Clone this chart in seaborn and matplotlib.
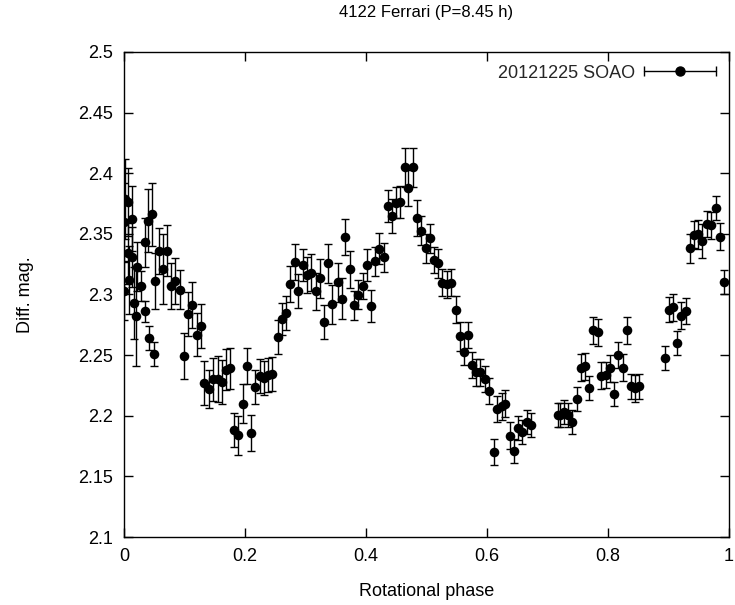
import matplotlib
matplotlib.use("Agg")
import matplotlib.pyplot as plt
import seaborn as sns
import pandas as pd
from matplotlib.lines import Line2D
from matplotlib.legend_handler import HandlerBase
from matplotlib.ticker import FuncFormatter, MultipleLocator

phase = [0.000, 0.0005, 0.0016, 0.006, 0.006, 0.009, 0.014, 0.014, 0.017, 0.020,
         0.021, 0.028, 0.0345, 0.0345, 0.040, 0.041, 0.0455, 0.049, 0.051, 0.0576,
         0.064, 0.0707, 0.078, 0.085, 0.093, 0.099, 0.106, 0.112, 0.120, 0.127,
         0.133, 0.141, 0.1475, 0.155, 0.162, 0.168, 0.176, 0.1826, 0.189, 0.196,
         0.203, 0.210, 0.2166, 0.224, 0.231, 0.238, 0.2445, 0.2544, 0.261, 0.2675,
         0.274, 0.282, 0.288, 0.296, 0.3026, 0.309, 0.317, 0.3235, 0.331, 0.3377,
         0.344, 0.353, 0.360, 0.366, 0.374, 0.380, 0.387, 0.395, 0.401, 0.409,
         0.4156, 0.422, 0.429, 0.4365, 0.443, 0.4495, 0.457, 0.4638, 0.470, 0.478,
         0.4847, 0.4913, 0.4989, 0.5055, 0.512, 0.5197, 0.5263, 0.534, 0.5406, 0.548,
         0.5548, 0.5614, 0.568, 0.5757, 0.582, 0.589, 0.5965, 0.603, 0.611, 0.6173,
         0.624, 0.630, 0.638, 0.645, 0.651, 0.658, 0.6656, 0.672, 0.717, 0.7204,
         0.727, 0.7347, 0.741, 0.749, 0.7555, 0.762, 0.7686, 0.776, 0.783, 0.789,
         0.796, 0.8026, 0.810, 0.817, 0.8245, 0.831, 0.8377, 0.8454, 0.852, 0.8936,
         0.900, 0.907, 0.9145, 0.921, 0.9288, 0.9353, 0.942, 0.9485, 0.956, 0.9638,
         0.970, 0.9778, 0.9847, 0.992]

mag = [2.360, 2.303, 2.3785, 2.376, 2.334, 2.312, 2.3626, 2.331, 2.293, 2.282,
       2.323, 2.307, 2.343, 2.286, 2.361, 2.264, 2.366, 2.251, 2.311, 2.336,
       2.321, 2.336, 2.307, 2.311, 2.304, 2.249, 2.284, 2.291, 2.267, 2.274,
       2.227, 2.222, 2.230, 2.230, 2.228, 2.238, 2.239, 2.188, 2.184, 2.210,
       2.241, 2.186, 2.224, 2.2325, 2.231, 2.2336, 2.2345, 2.2647, 2.280, 2.285,
       2.3085, 2.327, 2.3025, 2.3245, 2.316, 2.318, 2.3025, 2.3135, 2.2777, 2.3256,
       2.292, 2.310, 2.2965, 2.3474, 2.3207, 2.291, 2.2997, 2.3069, 2.3245, 2.2904,
       2.3273, 2.3378, 2.3306, 2.373, 2.3647, 2.3758, 2.3763, 2.405, 2.3879, 2.405,
       2.363, 2.3526, 2.3383, 2.3465, 2.3284, 2.3256, 2.3097, 2.3085, 2.3097, 2.2876,
       2.2655, 2.2529, 2.2667, 2.2419, 2.2358, 2.2358, 2.2303, 2.2204, 2.1702, 2.2055,
       2.2077, 2.2099, 2.1835, 2.1708, 2.190, 2.1868, 2.195, 2.1923, 2.2006, 2.2006,
       2.2028, 2.2006, 2.195, 2.2138, 2.2397, 2.2407, 2.2226, 2.2705, 2.2689, 2.233,
       2.2336, 2.2391, 2.2182, 2.250, 2.2397, 2.2705, 2.2242, 2.2226, 2.2242, 2.2474,
       2.2876, 2.2893, 2.260, 2.2826, 2.2865, 2.3383, 2.3493, 2.3498, 2.3438, 2.3581,
       2.357, 2.3713, 2.3477, 2.310]

err = [0.032, 0.024, 0.033, 0.028, 0.025, 0.028, 0.027, 0.025, 0.030, 0.041,
       0.020, 0.012, 0.020, 0.009, 0.026, 0.010, 0.026, 0.010, 0.023, 0.019,
       0.029, 0.021, 0.019, 0.019, 0.016, 0.019, 0.018, 0.019, 0.018, 0.018,
       0.018, 0.016, 0.018, 0.019, 0.018, 0.017, 0.017, 0.014, 0.016, 0.016,
       0.015, 0.015, 0.014, 0.014, 0.014, 0.014, 0.014, 0.014, 0.013, 0.014,
       0.015, 0.015, 0.014, 0.013, 0.015, 0.015, 0.015, 0.016, 0.014, 0.016,
       0.016, 0.016, 0.017, 0.015, 0.015, 0.012, 0.012, 0.011, 0.013, 0.013,
       0.012, 0.013, 0.012, 0.013, 0.014, 0.013, 0.013, 0.016, 0.015, 0.016,
       0.015, 0.012, 0.012, 0.012, 0.011, 0.012, 0.011, 0.011, 0.011, 0.011,
       0.012, 0.011, 0.011, 0.011, 0.011, 0.011, 0.011, 0.011, 0.011, 0.011,
       0.011, 0.011, 0.011, 0.010, 0.010, 0.010, 0.010, 0.010, 0.010, 0.010,
       0.010, 0.010, 0.010, 0.010, 0.011, 0.011, 0.010, 0.011, 0.011, 0.011,
       0.011, 0.011, 0.010, 0.011, 0.011, 0.011, 0.010, 0.011, 0.010, 0.010,
       0.010, 0.011, 0.010, 0.011, 0.011, 0.012, 0.011, 0.012, 0.014, 0.011,
       0.011, 0.010, 0.011, 0.010]

series_label = "20121225 SOAO"
title = "4122 Ferrari (P=8.45 h)"
xlabel = "Rotational phase"
ylabel = "Diff. mag."

df = pd.DataFrame({"phase": phase, "mag": mag, "err": err})

sns.set_theme(style="ticks")
plt.rcParams["font.family"] = ["Liberation Sans", "DejaVu Sans"]

fig = plt.figure(figsize=(7.35, 6.05), dpi=100)
ax = fig.add_axes([124 / 735, 1 - 537 / 605, (729 - 124) / 735, (537 - 52) / 605])

ax.errorbar(df["phase"], df["mag"], yerr=df["err"], fmt="none",
            ecolor="black", elinewidth=1.0, capsize=3.0, capthick=1.0, zorder=2)
sns.scatterplot(data=df, x="phase", y="mag", ax=ax, color="black", s=48,
                edgecolor="black", linewidth=0, zorder=3, legend=False)


class ErrHandler(HandlerBase):
    def create_artists(self, legend, orig_handle, xdescent, ydescent,
                       width, height, fontsize, trans):
        y = height / 2 - ydescent
        line = Line2D([-xdescent, width - xdescent], [y, y], color="black",
                      lw=1.0, marker="|", markersize=7, transform=trans)
        dot = Line2D([width / 2 - xdescent], [y], color="black", marker="o",
                     markersize=6.5, ls="none", transform=trans)
        return [line, dot]


proxy = Line2D([], [], color="black")
ax.legend([proxy], [series_label], handler_map={proxy: ErrHandler()},
          loc="upper right", frameon=False, markerfirst=False,
          fontsize=13, handlelength=4.0, handletextpad=0.5,
          borderaxespad=0.3)

ax.set_xlim(0, 1)
ax.set_ylim(2.1, 2.5)
ax.xaxis.set_major_locator(MultipleLocator(0.2))
ax.yaxis.set_major_locator(MultipleLocator(0.05))
fmt = FuncFormatter(lambda v, p: "%g" % round(v, 4))
ax.xaxis.set_major_formatter(fmt)
ax.yaxis.set_major_formatter(fmt)
ax.tick_params(direction="in", length=6.5, width=1.0, top=True, right=True,
               labelsize=13, colors="black", pad=8)
for sp in ax.spines.values():
    sp.set_visible(True)
    sp.set_linewidth(1.0)
    sp.set_color("black")

ax.set_xlabel(xlabel, fontsize=13, color="black", labelpad=13)
ax.set_ylabel(ylabel, fontsize=13, color="black", labelpad=32)
ax.set_title(title, fontsize=12, color="black", pad=25)

fig.savefig("out.png", dpi=100)
